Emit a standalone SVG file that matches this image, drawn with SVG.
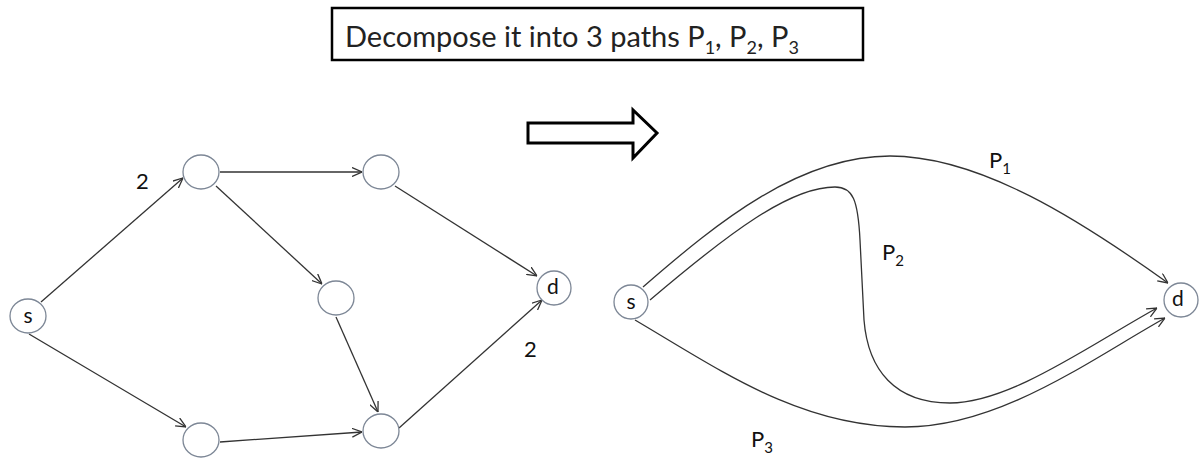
<svg xmlns="http://www.w3.org/2000/svg" width="1202" height="460" viewBox="0 0 1202 460">
<defs>
<style>
.node{fill:#fff;stroke:#7d8796;stroke-width:1.3}
.edge{fill:none;stroke:#333;stroke-width:1.3;marker-end:url(#arr)}
.lbl{font-family:Lato,"Open Sans",sans-serif;font-size:22px;fill:#111}
.nl{font-family:Lato,"Open Sans",sans-serif;font-size:21px;fill:#111;text-anchor:middle}
.title{font-family:Lato,"Open Sans",sans-serif;font-size:29px;fill:#222}
</style>
<marker id="arr" viewBox="0 0 10 10" refX="10" refY="5" markerWidth="10" markerHeight="10" markerUnits="userSpaceOnUse" orient="auto">
<path d="M0,0.5 L10,5 L0,9.5" fill="none" stroke="#333" stroke-width="1.3"/>
</marker>
</defs>
<rect width="1202" height="460" fill="#fff"/>
<g id="title">
<rect x="332" y="8" width="531" height="52" fill="#fff" stroke="#000" stroke-width="2.5"/>
<text class="title" x="345" y="47">Decompose it into 3 paths P<tspan font-size="18" dy="7">1</tspan><tspan dy="-7">, P</tspan><tspan font-size="18" dy="7">2</tspan><tspan dy="-7">, P</tspan><tspan font-size="18" dy="7">3</tspan></text>
</g>
<g id="transform-arrow">
<polygon points="528,123 633,123 633,110 657,133 633,158 633,143 528,143" fill="#fff" stroke="#000" stroke-width="3" stroke-linejoin="miter"/>
</g>
<g id="connectors">
<line class="edge" x1="41" y1="302" x2="183" y2="178"/>
<line class="edge" x1="220" y1="172" x2="362" y2="172"/>
<line class="edge" x1="216" y1="186" x2="322" y2="284"/>
<line class="edge" x1="395" y1="186" x2="537" y2="276"/>
<line class="edge" x1="336" y1="317" x2="378" y2="412"/>
<line class="edge" x1="29" y1="334" x2="186" y2="427"/>
<line class="edge" x1="220" y1="442" x2="362" y2="432"/>
<line class="edge" x1="399" y1="428" x2="542" y2="300"/>
<path class="edge" d="M643,287 C720,220 800,156 890,156 C980,156 1080,220 1168,283"/>
<path class="edge" d="M650,300 C730,232 790,187 835,187 C853,187 858,200 860,240 L864,320 C868,370 895,403 950,403 C1010,403 1090,345 1157,308"/>
<path class="edge" d="M635,320 C720,370 800,427 905,427 C1000,427 1090,360 1165,318"/>
</g>
<g id="edge-labels">
<text class="lbl" x="136" y="189">2</text>
<text class="lbl" x="524" y="357">2</text>
</g>
<g id="node-s-left"><ellipse class="node" cx="28" cy="316" rx="18" ry="17"/><text class="nl" x="28" y="323">s</text></g>
<g id="node-a"><ellipse class="node" cx="201" cy="172" rx="18" ry="17"/></g>
<g id="node-b"><ellipse class="node" cx="381" cy="172" rx="18" ry="17"/></g>
<g id="node-c"><ellipse class="node" cx="336" cy="298" rx="18" ry="17"/></g>
<g id="node-d-bottom"><ellipse class="node" cx="201" cy="440" rx="18" ry="17"/></g>
<g id="node-e"><ellipse class="node" cx="381" cy="431" rx="18" ry="17"/></g>
<g id="node-d-left"><ellipse class="node" cx="554" cy="288" rx="17" ry="17"/><text class="nl" x="553" y="294">d</text></g>
<g id="node-s-right"><ellipse class="node" cx="631" cy="302" rx="17" ry="17"/><text class="nl" x="631" y="309">s</text></g>
<g id="node-d-right"><ellipse class="node" cx="1181" cy="300" rx="17" ry="17"/><text class="nl" x="1178" y="306">d</text></g>
<g id="path-labels">
<text class="lbl" x="989" y="168">P<tspan font-size="15" dy="6">1</tspan></text>
<text class="lbl" x="882" y="260">P<tspan font-size="15" dy="6">2</tspan></text>
<text class="lbl" x="751" y="447">P<tspan font-size="15" dy="6">3</tspan></text>
</g>
</svg>
